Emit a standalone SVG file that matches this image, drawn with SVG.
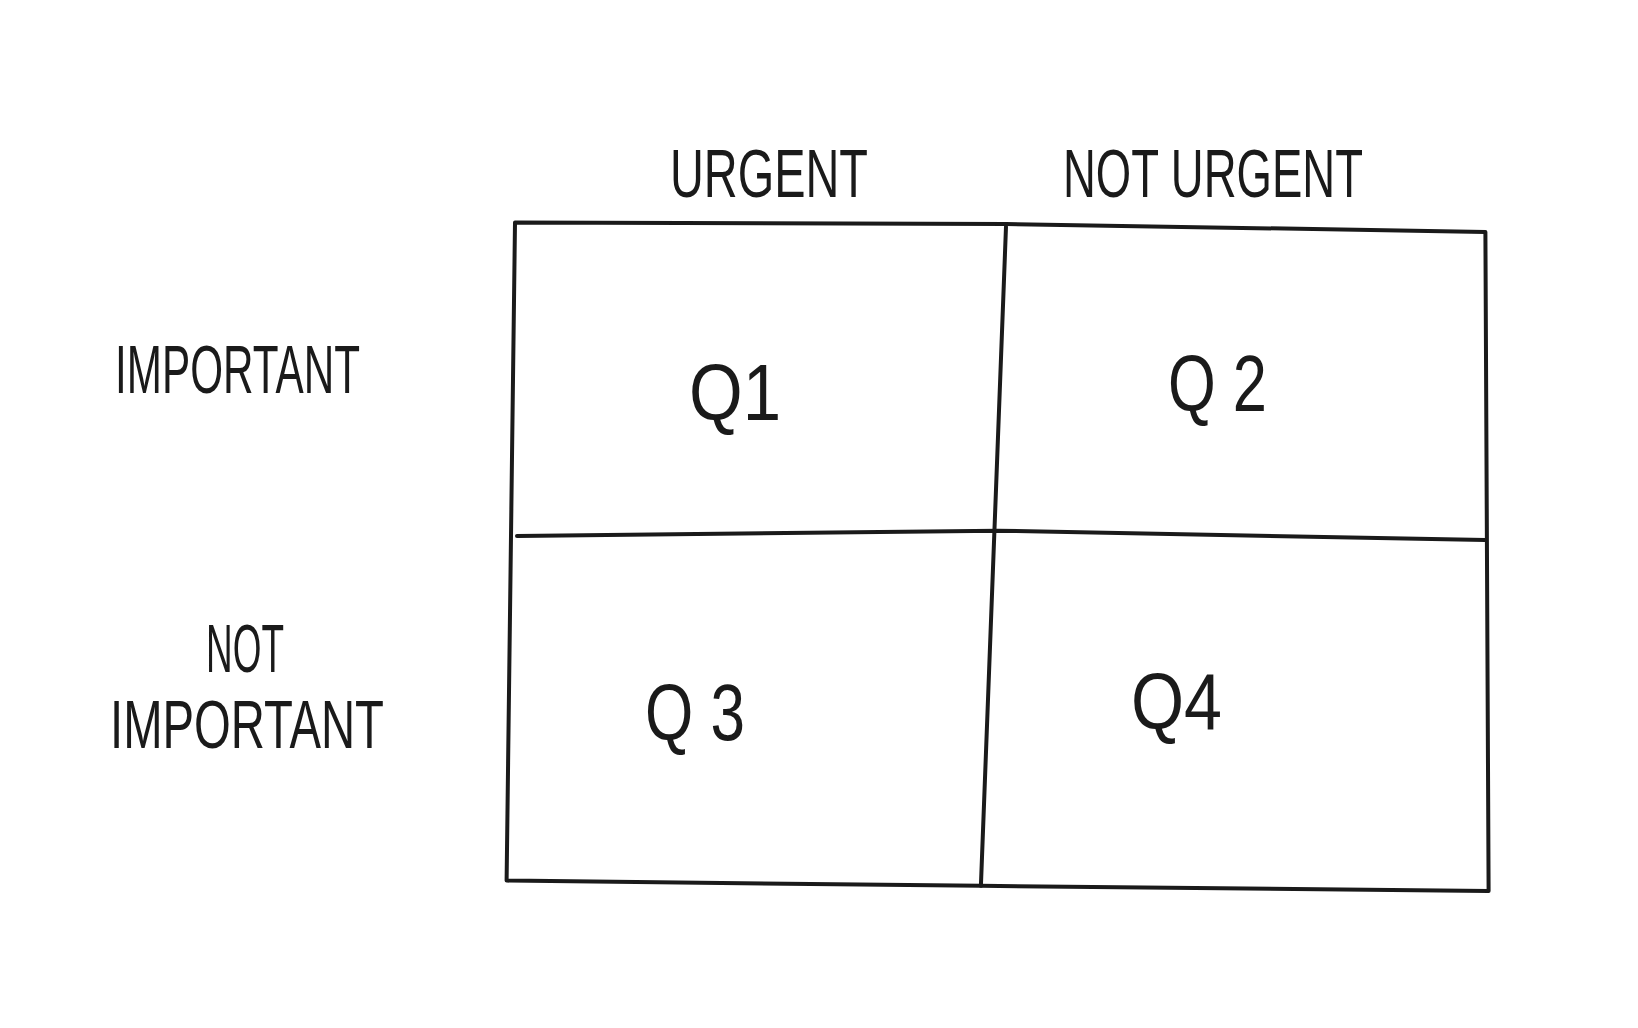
<svg xmlns="http://www.w3.org/2000/svg" width="1638" height="1028" viewBox="0 0 1638 1028">
<style>
.ln{fill:none;stroke:#1a1a1a;stroke-width:4;stroke-linecap:round;stroke-linejoin:round}
.lb{font-family:"Liberation Sans","DejaVu Sans",sans-serif;fill:#1a1a1a;font-size:68px}
.q{font-family:"Liberation Sans","DejaVu Sans",sans-serif;fill:#1a1a1a;font-size:80px}
</style>
<rect width="1638" height="1028" fill="#ffffff"/>
<g id="connectors">
<path class="ln" d="M515,222.5 L1006,224 L1485.4,231.9 L1488.6,891 L980.9,885.8 L506.6,880.6 Z"/>
<path class="ln" d="M1006,226.7 L980.9,885.8"/>
<path class="ln" d="M517,535.9 L997.6,530.7 L1485.4,540"/>
</g>
<g id="header-urgent"><text class="lb" x="670" y="197" textLength="198" lengthAdjust="spacingAndGlyphs">URGENT</text></g>
<g id="header-not-urgent"><text class="lb" x="1063" y="197" textLength="300" lengthAdjust="spacingAndGlyphs">NOT URGENT</text></g>
<g id="row-important"><text class="lb" x="115" y="393" textLength="245" lengthAdjust="spacingAndGlyphs">IMPORTANT</text></g>
<g id="row-not-important">
<text class="lb" x="206" y="672" textLength="78" lengthAdjust="spacingAndGlyphs">NOT</text>
<text class="lb" x="110" y="748" textLength="274" lengthAdjust="spacingAndGlyphs">IMPORTANT</text>
</g>
<g id="q1"><text class="q" x="689" y="420" textLength="92" lengthAdjust="spacingAndGlyphs">Q1</text></g>
<g id="q2"><text class="q" x="1168" y="411" textLength="99" lengthAdjust="spacingAndGlyphs">Q 2</text></g>
<g id="q3"><text class="q" x="645" y="740" textLength="100" lengthAdjust="spacingAndGlyphs">Q 3</text></g>
<g id="q4"><text class="q" x="1131" y="729" textLength="91" lengthAdjust="spacingAndGlyphs">Q4</text></g>
</svg>
